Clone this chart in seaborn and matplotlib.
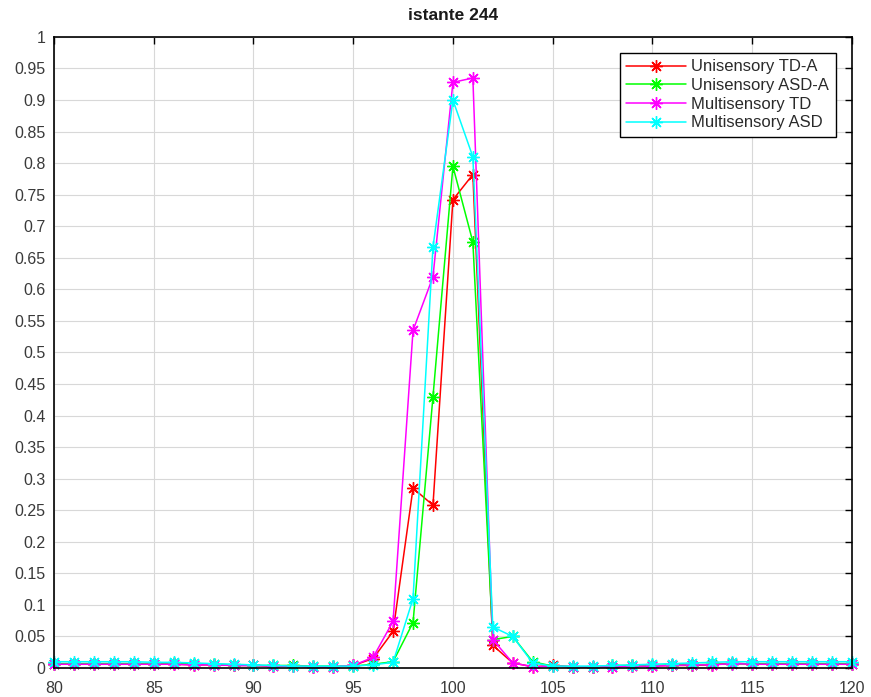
import seaborn as sns
import pandas as pd
import matplotlib.pyplot as plt

x_vals = list(range(80, 121))

uni_td = [0.006, 0.006, 0.006, 0.006, 0.006, 0.006, 0.006, 0.005, 0.005, 0.004, 0.004, 0.003, 0.003, 0.002, 0.002, 0.004,
          0.015, 0.058, 0.285, 0.258, 0.742, 0.782, 0.036, 0.008, 0.002,
          0.004, 0.002, 0.002, 0.002, 0.003, 0.003, 0.004, 0.004, 0.005, 0.008, 0.006, 0.006, 0.006, 0.006, 0.006, 0.006]
uni_asd = [0.007, 0.007, 0.007, 0.007, 0.007, 0.007, 0.008, 0.006, 0.006, 0.005, 0.004, 0.004, 0.004, 0.003, 0.003, 0.003,
           0.006, 0.010, 0.072, 0.430, 0.795, 0.675, 0.045, 0.050, 0.010,
           0.003, 0.002, 0.002, 0.004, 0.004, 0.004, 0.005, 0.005, 0.006, 0.006, 0.007, 0.007, 0.007, 0.007, 0.007, 0.007]
multi_td = [0.006, 0.006, 0.006, 0.006, 0.006, 0.006, 0.006, 0.005, 0.005, 0.004, 0.004, 0.003, 0.003, 0.002, 0.002, 0.004,
            0.017, 0.074, 0.535, 0.620, 0.928, 0.935, 0.045, 0.008, 0.002,
            0.003, 0.002, 0.002, 0.002, 0.003, 0.003, 0.004, 0.005, 0.005, 0.007, 0.006, 0.006, 0.006, 0.006, 0.006, 0.006]
multi_asd = [0.010, 0.010, 0.010, 0.010, 0.010, 0.009, 0.009, 0.008, 0.007, 0.006, 0.005, 0.004, 0.003, 0.003, 0.003, 0.003,
             0.005, 0.009, 0.110, 0.667, 0.900, 0.810, 0.065, 0.050, 0.008,
             0.003, 0.003, 0.003, 0.004, 0.005, 0.006, 0.007, 0.008, 0.009, 0.010, 0.010, 0.010, 0.010, 0.010, 0.010, 0.010]

labels = ['Unisensory TD-A', 'Unisensory ASD-A', 'Multisensory TD', 'Multisensory ASD']
colors = ['#ff0000', '#00ff00', '#ff00ff', '#00ffff']

sns.set_style('white')
plt.rcParams['font.family'] = ['Liberation Sans', 'DejaVu Sans']

fig = plt.figure(figsize=(8.71, 6.97), dpi=100)
ax = fig.add_axes([0.062, 0.0416, 0.916, 0.9054])

for lab, vals, col in zip(labels, [uni_td, uni_asd, multi_td, multi_asd], colors):
    d = pd.DataFrame({'x': x_vals, 'y': vals})
    sns.lineplot(data=d, x='x', y='y', color=col, label=lab,
                 marker=(8, 2, 0), markersize=9, markeredgewidth=1.0,
                 markeredgecolor=col, markerfacecolor=col, linewidth=1.1,
                 sort=False, clip_on=False, ax=ax)

ax.set_xlim(80, 120)
ax.set_ylim(0, 1)
ax.set_xticks(range(80, 121, 5))
ax.set_yticks([i * 0.05 for i in range(21)])
ax.set_yticklabels(['0' if i == 0 else ('1' if i == 20 else f'{i * 0.05:g}') for i in range(21)])
ax.tick_params(direction='in', length=5, width=1, labelsize=11.5, top=True, right=True,
               color='black', labelcolor='#3a3a3a')
ax.tick_params(axis='y', pad=6)
ax.tick_params(axis='x', pad=9)
ax.grid(True, color='#d8d8d8', linewidth=0.8)
ax.set_axisbelow(True)
for sp in ax.spines.values():
    sp.set_color('black')
    sp.set_linewidth(1.2)
ax.set_xlabel('')
ax.set_ylabel('')
ax.set_title('istante 244', fontsize=12.5, fontweight='bold', pad=12, color='#1a1a1a')

leg = ax.legend(loc='upper right', bbox_to_anchor=(0.98, 0.975), fontsize=12, fancybox=False,
                framealpha=1, edgecolor='black', borderpad=0.4, labelspacing=0.22, handlelength=3.6,
                handletextpad=0.3, borderaxespad=0)
leg.get_frame().set_linewidth(1.0)
for t in leg.get_texts():
    t.set_color('#2a2a2a')

fig.savefig('out.png', dpi=100)
